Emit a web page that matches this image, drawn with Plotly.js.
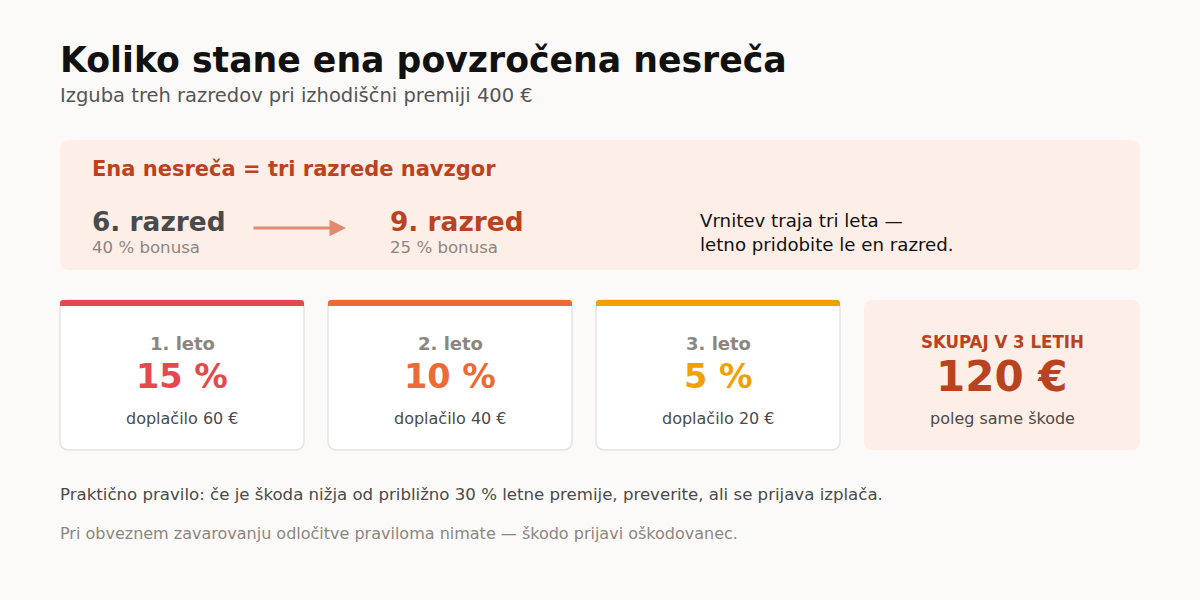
<!DOCTYPE html>
<html>
<head>
<meta charset="utf-8">
<script src="https://cdn.plot.ly/plotly-3.0.1.min.js"></script>
<style>
  html, body { margin: 0; padding: 0; background: #fbfaf8; }
  #chart { width: 1200px; height: 600px; }
</style>
</head>
<body>
<div id="chart"></div>
<script>
// data
const years = ["1. leto", "2. leto", "3. leto"];
const surcharge_pct = [15, 10, 5];
const surcharge_eur = [60, 40, 20];
const year_colors = ["#e5484d", "#ec6a35", "#f0a000"];
const total_eur = 120;
const base_premium = 400;
const class_from = {label: "6. razred", bonus: "40 % bonusa"};
const class_to = {label: "9. razred", bonus: "25 % bonusa"};

const FONT = "DejaVu Sans, Verdana, sans-serif";
const RUST = "#b9431f";
const GREY = "#8c8680";
const DARK = "#4a4a4a";
const PINK = "#fdeee7";

function roundRect(x0, y0, x1, y1, r) {
    return `M${x0 + r},${y0} L${x1 - r},${y0} Q${x1},${y0} ${x1},${y0 + r} ` +
        `L${x1},${y1 - r} Q${x1},${y1} ${x1 - r},${y1} L${x0 + r},${y1} ` +
        `Q${x0},${y1} ${x0},${y1 - r} L${x0},${y0 + r} Q${x0},${y0} ${x0 + r},${y0} Z`;
}
function topBar(x0, y0, x1, y1, r) {
    return `M${x0},${y1} L${x0},${y0 + r} Q${x0},${y0} ${x0 + r},${y0} ` +
        `L${x1 - r},${y0} Q${x1},${y0} ${x1},${y0 + r} L${x1},${y1} Z`;
}
function txt(x, y, text, size, color, opts) {
    return Object.assign({
        x, y, xref: "x", yref: "y", text, showarrow: false,
        xanchor: "left", yanchor: "middle",
        font: {family: FONT, size, color},
    }, opts || {});
}
function bold(size, color, family) {
    return {family: family || FONT, size, color, weight: "bold"};
}

const shapes = [];
const annotations = [];

// heading
annotations.push(txt(58, 60, "Koliko stane ena povzročena nesreča", 34.7, "#111111", {font: bold(34.7, "#111111")}));
annotations.push(txt(58, 95, `Izguba treh razredov pri izhodiščni premiji ${base_premium} €`, 19.5, "#555555"));

// class panel
shapes.push({type: "path", xref: "x", yref: "y", path: roundRect(60, 140, 1140, 270, 10), fillcolor: PINK, line: {width: 0}, layer: "below"});
annotations.push(txt(90, 169, "Ena nesreča = tri razrede navzgor", 21, RUST, {font: bold(21, RUST)}));
annotations.push(txt(90, 221, class_from.label, 26.4, DARK, {font: bold(26.4, DARK)}));
annotations.push(txt(90, 247, class_from.bonus, 16.6, GREY));
annotations.push(txt(388, 221, class_to.label, 26.4, RUST, {font: bold(26.4, RUST)}));
annotations.push(txt(388, 247, class_to.bonus, 16.6, GREY));
annotations.push({
    x: 346, y: 228, ax: 252, ay: 228, xref: "x", yref: "y", axref: "x", ayref: "y",
    text: "", showarrow: true, arrowhead: 2, arrowsize: 1.1, arrowwidth: 3, arrowcolor: "#e08a70",
});
annotations.push(txt(698, 232.5, "Vrnitev traja tri leta —<br>letno pridobite le en razred.", 18.2, "#111111", {align: "left"}));

// year cards
const cardX = [60, 328, 596];
const cardW = 244;
years.forEach((yr, i) => {
    const x0 = cardX[i], x1 = x0 + cardW, cx = x0 + cardW / 2;
    shapes.push({type: "path", xref: "x", yref: "y", path: roundRect(x0, 300, x1, 450, 9), fillcolor: "#ffffff", line: {color: "#e6e4e0", width: 1.5}, layer: "below"});
    shapes.push({type: "path", xref: "x", yref: "y", path: topBar(x0, 300, x1, 306, 3), fillcolor: year_colors[i], line: {width: 0}, layer: "above"});
    annotations.push(txt(cx, 343, yr, 18, GREY, {xanchor: "center", font: bold(18, GREY)}));
    annotations.push(txt(cx, 376, `${surcharge_pct[i]} %`, 33.5, year_colors[i], {xanchor: "center", font: bold(33.5, year_colors[i])}));
    annotations.push(txt(cx, 418, `doplačilo ${surcharge_eur[i]} €`, 16, DARK, {xanchor: "center"}));
});

// total card
shapes.push({type: "path", xref: "x", yref: "y", path: roundRect(864, 300, 1140, 450, 9), fillcolor: PINK, line: {width: 0}, layer: "below"});
annotations.push(txt(1002, 341, "SKUPAJ V 3 LETIH", 18.5, RUST, {xanchor: "center", font: bold(18.5, RUST, "DejaVu Sans Condensed, " + FONT)}));
annotations.push(txt(1002, 376, `${total_eur} €`, 42, RUST, {xanchor: "center", font: bold(42, RUST)}));
annotations.push(txt(1002, 418, "poleg same škode", 16, DARK, {xanchor: "center"}));

// footnotes
annotations.push(txt(58, 494, "Praktično pravilo: če je škoda nižja od približno 30 % letne premije, preverite, ali se prijava izplača.", 16.6, DARK));
annotations.push(txt(58, 533, "Pri obveznem zavarovanju odločitve praviloma nimate — škodo prijavi oškodovanec.", 16, GREY));

const layout = {
    width: 1200, height: 600,
    margin: {l: 0, r: 0, t: 0, b: 0},
    paper_bgcolor: "#fbfaf8", plot_bgcolor: "#fbfaf8",
    xaxis: {range: [0, 1200], visible: false, fixedrange: true},
    yaxis: {range: [600, 0], visible: false, fixedrange: true},
    showlegend: false,
    shapes, annotations,
};

Plotly.newPlot("chart", [], layout, {displayModeBar: false, staticPlot: true});
</script>
</body>
</html>
